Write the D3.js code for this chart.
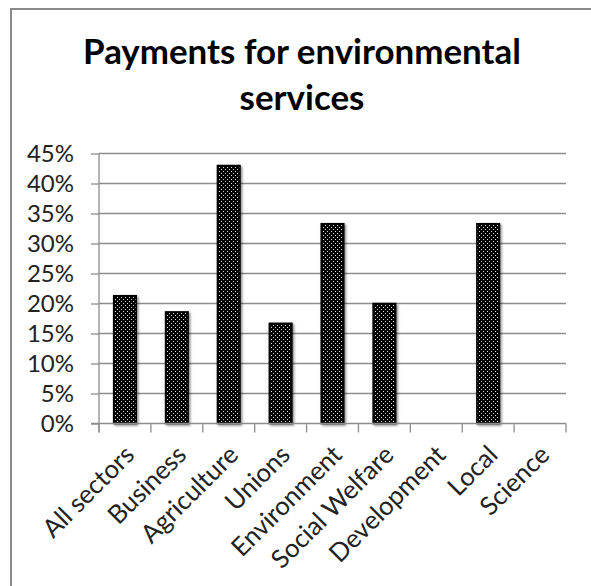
<!DOCTYPE html>
<html><head><meta charset="utf-8">
<script src="https://cdn.jsdelivr.net/npm/d3@7"></script>
<style>body{margin:0;background:#fff}svg{display:block}</style>
</head><body>
<svg id="c" width="591" height="586"></svg>
<script>
const categories = ["All sectors","Business","Agriculture","Unions","Environment","Social Welfare","Development","Local","Science"];
const values = [21.3, 18.6, 43.0, 16.7, 33.3, 20.0, 0, 33.3, 0];
const yTicks = [0,5,10,15,20,25,30,35,40,45];
const titleLines = ["Payments for environmental","services"];

const svg = d3.select("#c");
const font = "Lato, 'Open Sans', sans-serif";

// frame
svg.append("rect").attr("x",11).attr("y",9).attr("width",600).attr("height",600)
  .attr("fill","none").attr("stroke","#8a8a8a").attr("stroke-width",2);

const defs = svg.append("defs");
const pat = defs.append("pattern").attr("id","dots").attr("patternUnits","userSpaceOnUse")
  .attr("width",4).attr("height",4);
pat.append("rect").attr("width",4).attr("height",4).attr("fill","#000");
pat.append("rect").attr("x",1).attr("y",1).attr("width",1).attr("height",1).attr("fill","#d8d8d8");
pat.append("rect").attr("x",3).attr("y",3).attr("width",1).attr("height",1).attr("fill","#d8d8d8");
const f = defs.append("filter").attr("id","sh").attr("x","-30%").attr("y","-10%").attr("width","160%").attr("height","120%");
f.append("feDropShadow").attr("dx",1.5).attr("dy",1.5).attr("stdDeviation",1.2).attr("flood-color","#000").attr("flood-opacity",0.45);

const x0 = 99, x1 = 566, yTop = 153.5, yBot = 423.5;
const x = d3.scaleBand().domain(categories).range([x0,x1]).paddingInner(0.565).paddingOuter(0.2825);
const xb = d3.scaleBand().domain(categories).range([x0,x1]).padding(0);
const y = d3.scaleLinear().domain([0,45]).range([yBot,yTop]);

// gridlines
svg.append("g").selectAll("line").data(yTicks.filter(d=>d>0)).join("line")
  .attr("x1",x0).attr("x2",x1).attr("y1",d=>y(d)).attr("y2",d=>y(d))
  .attr("stroke","#8c8c8c").attr("stroke-width",1.3);

// y axis
const yAxis = svg.append("g").attr("transform",`translate(${x0},0)`)
  .call(d3.axisLeft(y).tickValues(yTicks).tickFormat(d=>d+"%").tickSize(8).tickPadding(17));
yAxis.select(".domain").attr("stroke","#8c8c8c").attr("stroke-width",1.3).attr("d",`M-0,${yTop}V${yBot+9}`);
yAxis.selectAll(".tick line").attr("stroke","#8c8c8c").attr("stroke-width",1.3);
yAxis.selectAll(".tick text").attr("font-family",font).attr("font-size",24).attr("fill","#222");

// bars
const bars = svg.append("g").selectAll("rect").data(categories.map((c,i)=>({c,v:values[i]})).filter(d=>d.v>0)).join("rect")
  .attr("x",d=>x(d.c)).attr("width",x.bandwidth())
  .attr("y",d=>y(d.v)).attr("height",d=>yBot-y(d.v))
  .attr("fill","url(#dots)").attr("stroke","#000").attr("stroke-width",1.5)
  .attr("filter","url(#sh)");

// x axis
const xAxis = svg.append("g").attr("transform",`translate(0,${yBot})`);
xAxis.append("line").attr("x1",x0-8).attr("x2",x1).attr("y1",0).attr("y2",0).attr("stroke","#8c8c8c").attr("stroke-width",1.3);
const bounds = categories.map(c=>xb(c)).concat([x1]);
xAxis.selectAll("line.t").data(bounds).join("line").attr("class","t")
  .attr("x1",d=>d).attr("x2",d=>d).attr("y1",0).attr("y2",9).attr("stroke","#8c8c8c").attr("stroke-width",1.3);
const xl = xAxis.selectAll("text").data(categories).join("text")
  .attr("transform",d=>`translate(${xb(d)+xb.bandwidth()/2+11},${33}) rotate(-45)`)
  .attr("text-anchor","end").attr("font-family",font).attr("font-size",22).attr("fill","#222")
  .text(d=>d);
// fit label size so "All sectors" spans ~117px like the reference
const w0 = xl.filter((d,i)=>i===0).node().getComputedTextLength();
xl.attr("font-size", 22*117/w0);

// title
const tt = svg.append("g").selectAll("text").data(titleLines).join("text")
  .attr("x",302).attr("y",(d,i)=>64+i*46).attr("text-anchor","middle")
  .attr("font-family",font).attr("font-weight","bold").attr("font-size",32).attr("fill","#000")
  .text(d=>d);
const tw = tt.filter((d,i)=>i===0).node().getComputedTextLength();
tt.attr("font-size", 32*438/tw);
</script>
</body></html>
